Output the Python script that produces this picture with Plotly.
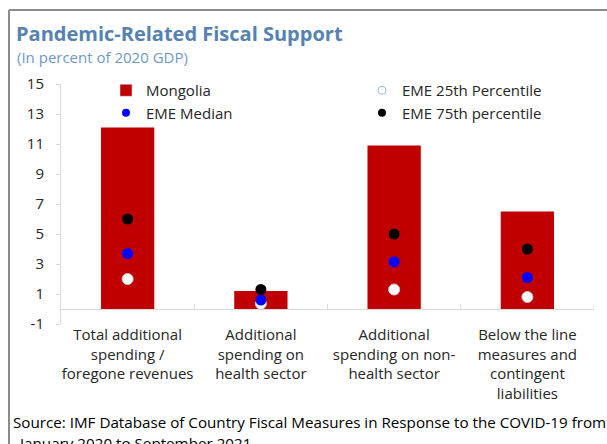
import plotly.graph_objects as go

# Pandemic-related fiscal support, Mongolia vs emerging market economies (EME)
categories = [
    "Total additional<br>spending /<br>foregone revenues",
    "Additional<br>spending on<br>health sector",
    "Additional<br>spending on non-<br>health sector",
    "Below the line<br>measures and<br>contingent<br>liabilities",
]
mongolia = [12.1, 1.2, 10.9, 6.5]
eme_p25 = [2.0, 0.35, 1.3, 0.8]
eme_median = [3.7, 0.6, 3.15, 2.1]
eme_p75 = [6.0, 1.3, 5.0, 4.0]
y_ticks = [-1, 1, 3, 5, 7, 9, 11, 13, 15]
y_tick_text = ["-1", "1", "3", "5", "7", "9", "11", "13", "15"]

W, H = 607, 444
ML, MR, MT, MB = 61, 13, 84, 120
FONT = "Open Sans"
TXT = "#262626"

BAR_RED = "#c00000"
P25_FILL, P25_EDGE = "#ffffff", "#bfcbd8"
MED_BLUE = "#0000ff"
P75_BLACK = "#000000"


def px_x(px):
    return (px - ML) / (W - ML - MR)


def px_y(py):
    return 1 - (py - MT) / (H - MT - MB)


fig = go.Figure()

# data layers
fig.add_bar(x=categories, y=mongolia, name="Mongolia", showlegend=False,
            marker=dict(color=BAR_RED, line=dict(width=0)), width=0.4)
fig.add_scatter(x=categories, y=eme_p25, name="EME 25th Percentile",
                mode="markers", showlegend=False,
                marker=dict(size=11, color=P25_FILL,
                            line=dict(color=P25_EDGE, width=1)))
fig.add_scatter(x=categories, y=eme_median, name="EME Median",
                mode="markers", showlegend=False,
                marker=dict(size=11, color=MED_BLUE, line=dict(width=0)))
fig.add_scatter(x=categories, y=eme_p75, name="EME 75th percentile",
                mode="markers", showlegend=False,
                marker=dict(size=11, color=P75_BLACK, line=dict(width=0)))

# legend entries (smaller symbols than the plotted markers)
fig.add_bar(x=[None], y=[None], name="Mongolia", marker=dict(color=BAR_RED))
fig.add_scatter(x=[None], y=[None], name="EME 25th Percentile", mode="markers",
                marker=dict(size=8, color=P25_FILL,
                            line=dict(color="#9fb6cf", width=1)))
fig.add_scatter(x=[None], y=[None], name="EME Median", mode="markers",
                marker=dict(size=8, color=MED_BLUE))
fig.add_scatter(x=[None], y=[None], name="EME 75th percentile", mode="markers",
                marker=dict(size=8, color=P75_BLACK))

shapes = []
# outer frame (left and top edges)
shapes.append(dict(type="line", xref="paper", yref="paper",
                   x0=px_x(9), x1=px_x(9), y0=px_y(10), y1=px_y(H + 5),
                   line=dict(color="#8c8c8c", width=2)))
shapes.append(dict(type="line", xref="paper", yref="paper",
                   x0=px_x(9), x1=px_x(W + 5), y0=px_y(10), y1=px_y(10),
                   line=dict(color="#8c8c8c", width=2)))
# category boundary ticks on the zero line
for k in range(len(categories)):
    shapes.append(dict(type="line", xref="x", yref="y",
                       x0=k + 0.5, x1=k + 0.5, y0=0, y1=0.35,
                       line=dict(color="#d9d9d9", width=1)))

annotations = [
    dict(text="Source: IMF Database of Country Fiscal Measures in Response to the COVID-19 from",
         xref="paper", yref="paper", x=px_x(11), y=px_y(422),
         xanchor="left", yanchor="middle", showarrow=False,
         font=dict(family=FONT, size=15.2, color="#000000")),
    dict(text="January 2020 to September 2021",
         xref="paper", yref="paper", x=px_x(16), y=px_y(443),
         xanchor="left", yanchor="middle", showarrow=False,
         font=dict(family=FONT, size=15.2, color="#000000")),
    dict(text="(In percent of 2020 GDP)",
         xref="paper", yref="paper", x=px_x(15), y=px_y(57),
         xanchor="left", yanchor="middle", showarrow=False,
         font=dict(family=FONT, size=15, color="#6f98c4")),
]

fig.update_layout(
    width=W, height=H,
    margin=dict(l=ML, r=MR, t=MT, b=MB, autoexpand=False),
    paper_bgcolor="white", plot_bgcolor="white",
    font=dict(family=FONT, size=14, color=TXT),
    title=dict(text="<b>Pandemic-Related Fiscal Support</b>",
               xref="container", yref="container",
               x=16 / W, y=1 - 34 / H, xanchor="left", yanchor="middle",
               font=dict(family=FONT, size=20, color="#5582b0")),
    bargap=0.6,
    showlegend=True,
    legend=dict(orientation="h", x=px_x(106), y=px_y(74),
                xanchor="left", yanchor="top",
                entrywidth=211, entrywidthmode="pixels",
                traceorder="normal", bgcolor="rgba(0,0,0,0)",
                font=dict(family=FONT, size=15, color=TXT),
                itemsizing="trace"),
    shapes=shapes,
    annotations=annotations,
    xaxis=dict(type="category", showline=False, showgrid=False,
               ticks="", tickfont=dict(family=FONT, size=15, color=TXT),
               range=[-0.5, len(categories) - 0.5], fixedrange=True),
    yaxis=dict(range=[-1, 15], tickvals=y_ticks, ticktext=y_tick_text,
               showgrid=False,
               showline=True, linecolor="#d9d9d9", linewidth=1,
               ticks="outside", ticklen=4, tickcolor="#d9d9d9",
               zeroline=True, zerolinecolor="#d9d9d9", zerolinewidth=1,
               tickfont=dict(family=FONT, size=15, color=TXT),
               ticklabelstandoff=9, fixedrange=True),
)

fig.write_html("out.html")
